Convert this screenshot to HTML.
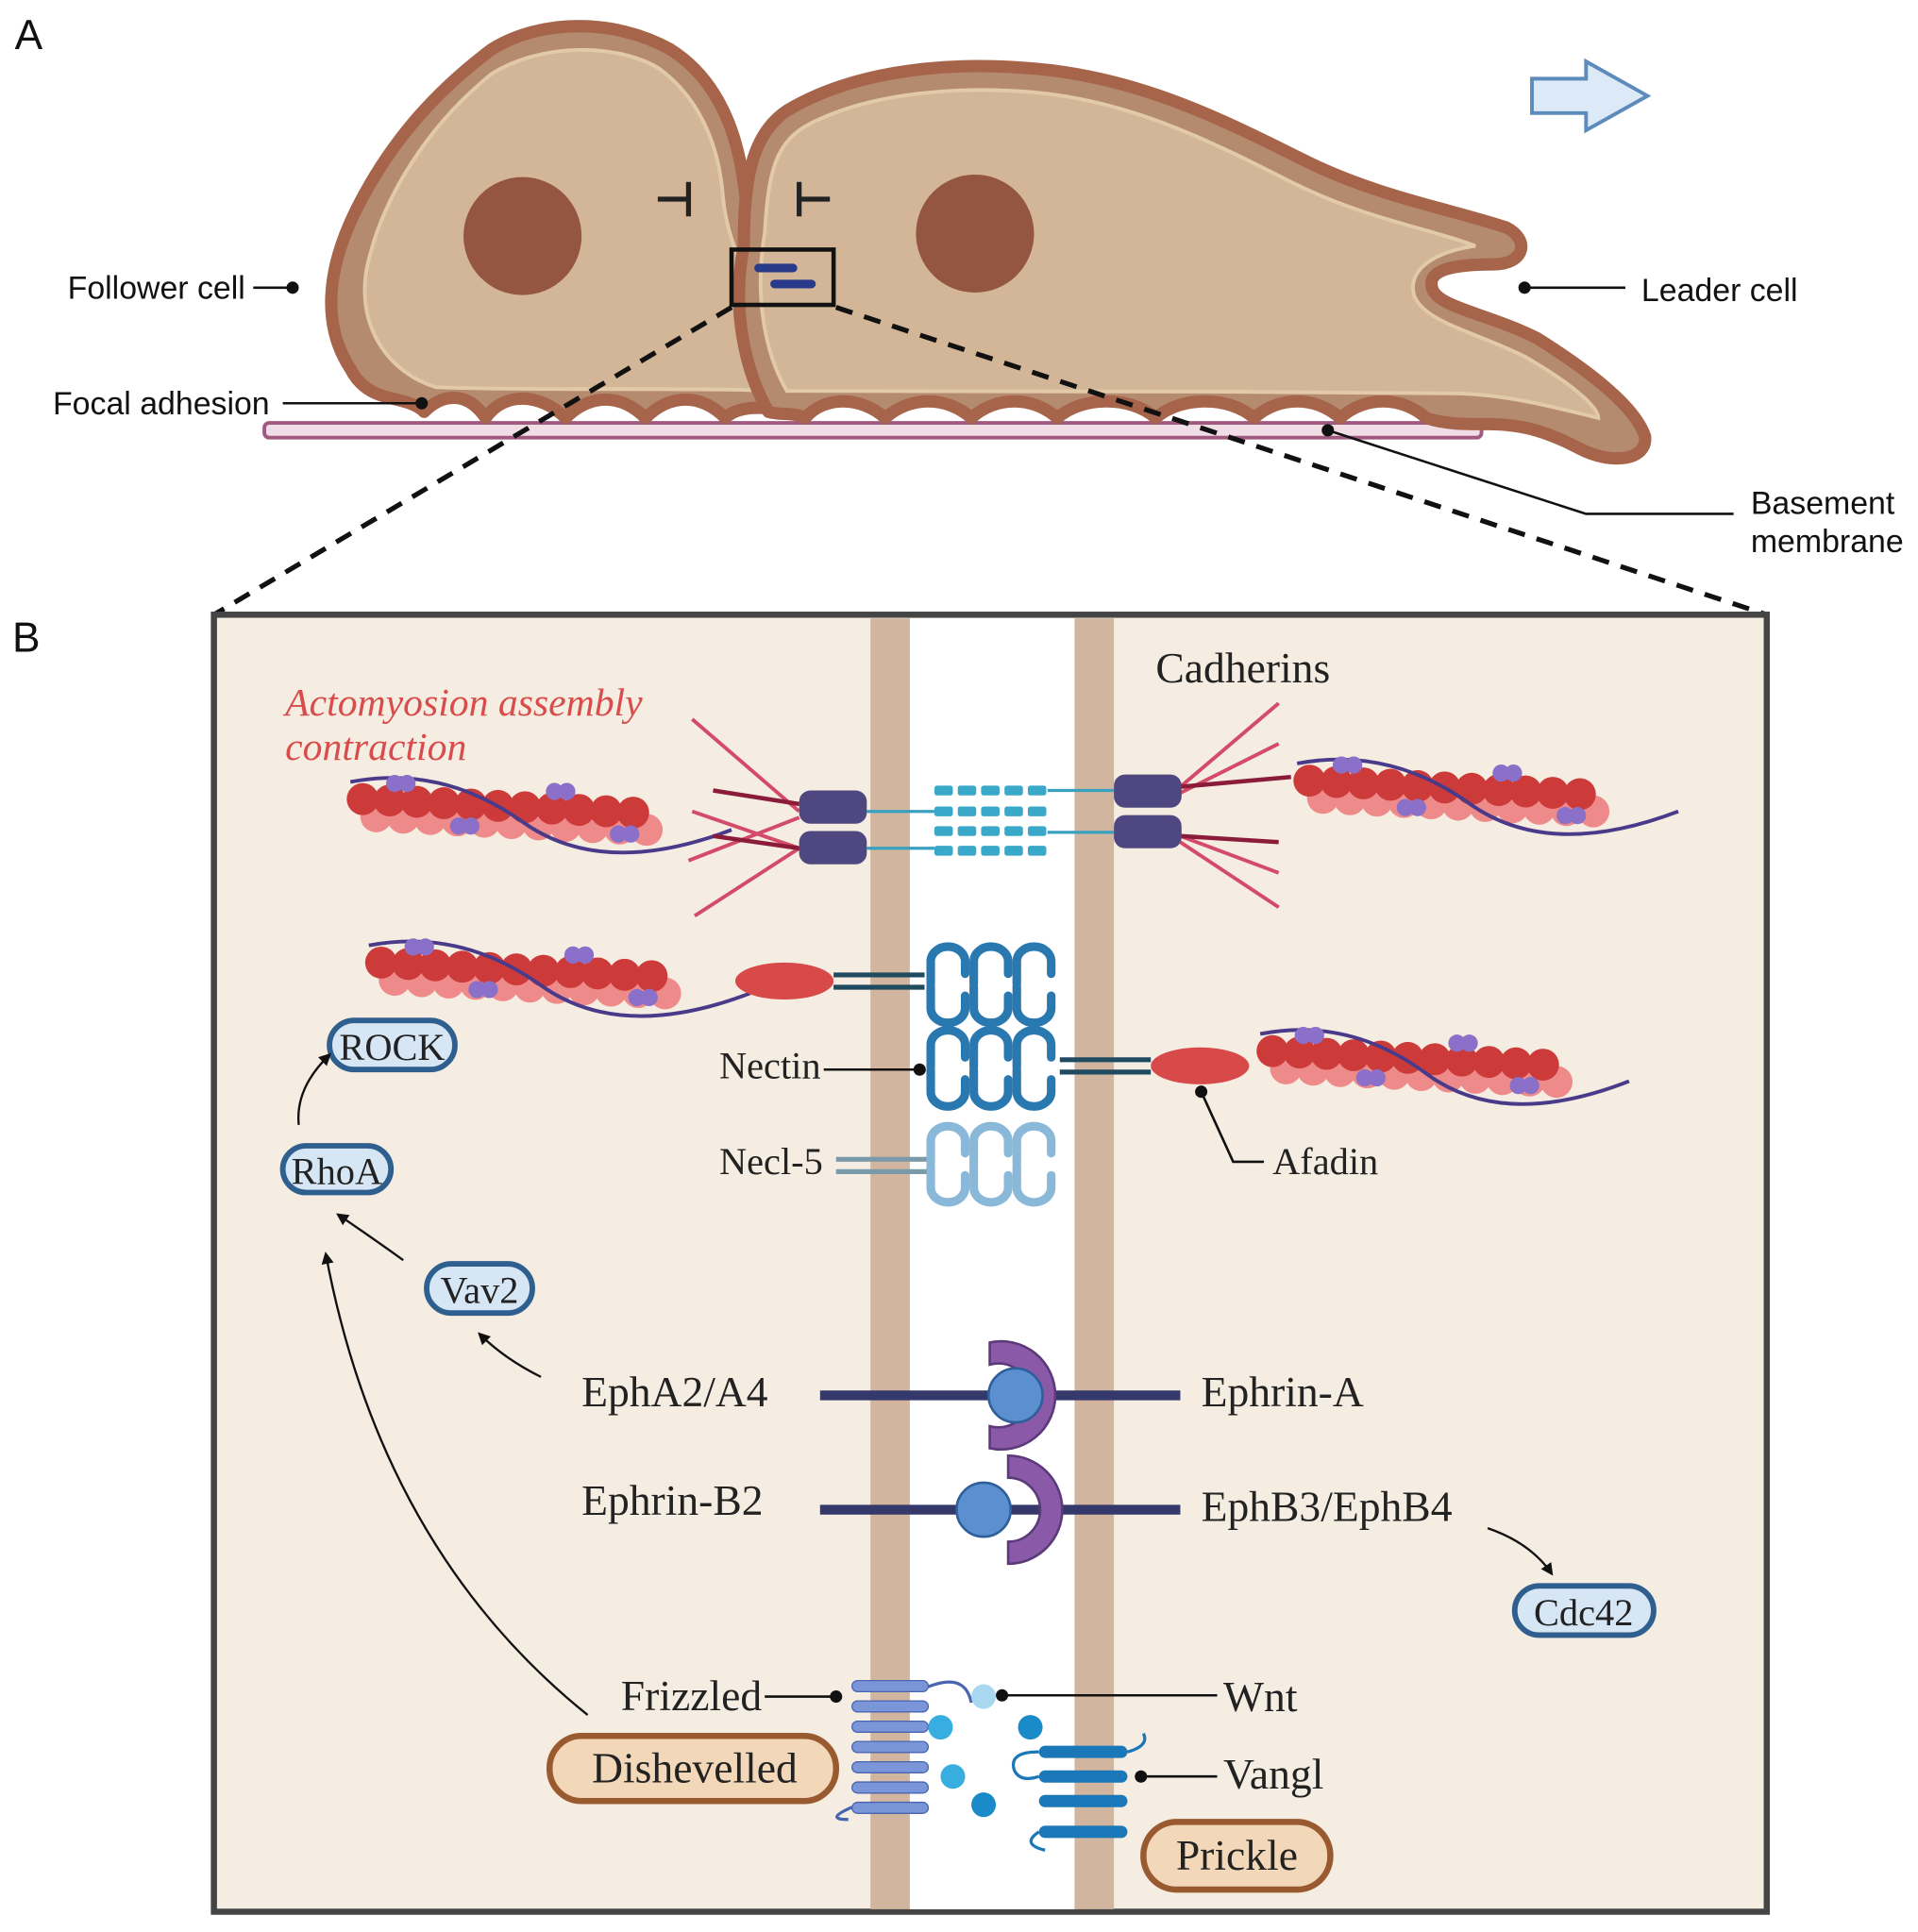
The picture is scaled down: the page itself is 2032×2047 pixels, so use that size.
<!DOCTYPE html>
<html><head><meta charset="utf-8"><style>
html,body{margin:0;padding:0;background:#fff}
svg{display:block}
.s{font-family:"Liberation Sans",sans-serif;font-size:26px;fill:#111}
.r{font-family:"Liberation Serif",serif;font-size:35px;fill:#222}
.m{font-size:31px}
</style></head><body>
<svg id="sv" width="2032" height="2047" viewBox="0 0 1560 1571.5" preserveAspectRatio="none" xmlns="http://www.w3.org/2000/svg">
<defs>
<marker id="ah" markerWidth="10" markerHeight="10" refX="8" refY="5" orient="auto" markerUnits="userSpaceOnUse"><path d="M0,0 L10,5 L0,10 Z" fill="#111"/></marker>
</defs>
<rect width="1560" height="1572" fill="#fff"/>
<text x="12" y="40" class="s" style="font-size:34px">A</text>
<text x="10" y="530" class="s" style="font-size:34px">B</text>

<rect x="215" y="344" width="990" height="12" rx="4" fill="#f0dde6" stroke="#a05a80" stroke-width="3"/>

<path d="M345,335 C330,320 300,330 285,300 C262,265 265,220 290,170 C320,110 360,70 400,40 C440,15 500,15 545,40 C585,65 600,110 605,150 C610,195 630,230 655,265 C675,300 670,335 645,335 C620,330 600,330 590,340 C570,320 545,320 525,340 C505,320 480,320 460,340 C440,320 410,318 395,340 C380,318 360,320 345,335 Z" fill="#b58b70" stroke="#a6644a" stroke-width="10" stroke-linejoin="round"/>
<path d="M355,315 C320,305 290,270 298,220 C310,160 350,100 400,60 C440,35 500,35 535,55 C570,80 585,120 588,160 C592,205 615,240 640,275 C655,300 650,318 630,318 C560,315 440,318 355,315 Z" fill="#d3b698" stroke="#e2caa9" stroke-width="3"/>
<circle cx="425" cy="192" r="48" fill="#945640"/>

<path d="M625,335 C605,300 595,250 605,200 C605,150 610,110 640,90 C690,60 760,50 830,55 C920,60 990,95 1060,130 C1120,160 1180,170 1225,185 C1245,195 1240,215 1215,215 C1180,215 1160,220 1165,235 C1170,250 1210,255 1250,275 C1290,300 1330,330 1338,355 C1340,375 1310,378 1285,365 C1260,352 1240,345 1210,345 C1190,345 1175,345 1160,340 C1140,322 1110,322 1090,340 C1070,322 1040,322 1020,340 C1000,322 960,322 940,340 C920,322 880,322 860,340 C840,322 810,322 790,340 C770,322 740,322 720,340 C700,322 670,322 655,340 C645,335 635,338 625,335 Z" fill="#b58b70" stroke="#a6644a" stroke-width="10" stroke-linejoin="round"/>
<path d="M640,318 C618,280 615,230 622,190 C625,140 630,115 660,100 C710,75 780,70 840,75 C920,82 985,115 1050,148 C1110,178 1160,185 1200,200 C1165,205 1145,220 1150,240 C1158,262 1200,270 1240,290 C1275,310 1300,330 1300,340 C1260,330 1220,320 1180,320 C1000,318 800,318 640,318 Z" fill="#d3b698" stroke="#e2caa9" stroke-width="3"/>
<circle cx="793" cy="190" r="48" fill="#945640"/>

<path d="M535,162 H560 M560,148 V176 M650,148 V176 M650,162 H675" stroke="#222" stroke-width="4" fill="none"/>
<rect x="595" y="203" width="83" height="45" fill="none" stroke="#111" stroke-width="3.5"/>
<path d="M617,218 H645 M630,231 H660" stroke="#2a3a8a" stroke-width="7" stroke-linecap="round"/>

<path d="M1246,64 H1290 V50 L1340,78 L1290,106 V92 H1246 Z" fill="#dce9f6" stroke="#5d8bbb" stroke-width="3"/>

<text x="55" y="243" class="s">Follower cell</text>
<path d="M206,234 H238" stroke="#111" stroke-width="2"/><circle cx="238" cy="234" r="5" fill="#111"/>
<text x="43" y="337" class="s">Focal adhesion</text>
<path d="M230,328 H343" stroke="#111" stroke-width="2"/><circle cx="343" cy="328" r="5" fill="#111"/>
<text x="1335" y="245" class="s">Leader cell</text>
<path d="M1240,234 H1322" stroke="#111" stroke-width="2"/><circle cx="1240" cy="234" r="5" fill="#111"/>
<text x="1424" y="418" class="s">Basement</text>
<text x="1424" y="449" class="s">membrane</text>
<path d="M1080,350 L1290,418 H1410" stroke="#111" stroke-width="2" fill="none"/><circle cx="1080" cy="350" r="5" fill="#111"/>

<path d="M595,250 L174,500 M680,250 L1437,500" stroke="#111" stroke-width="4" stroke-dasharray="14,10"/>

<rect x="174" y="500" width="1263" height="1055" fill="#f5ede1" stroke="#454545" stroke-width="5"/>
<rect x="740" y="503" width="134" height="1050" fill="#fff"/>
<rect x="708" y="503" width="32" height="1050" fill="#d1b59e"/>
<rect x="874" y="503" width="32" height="1050" fill="#d1b59e"/>

<text x="232" y="582" class="r" style="fill:#d94c4c;font-style:italic;font-size:32px">Actomyosion assembly</text>
<text x="232" y="618" class="r" style="fill:#d94c4c;font-style:italic;font-size:32px">contraction</text>
<text x="940" y="555" class="r">Cadherins</text>

<g id="actin"></g>

<g stroke="#d44a6a" stroke-width="3">
<path d="M650,660 L563,585 M650,690 L563,660 M650,665 L560,700 M650,690 L565,745"/>
<path d="M960,640 L1040,572 M960,645 L1040,605 M960,680 L1040,710 M960,685 L1040,738"/>
</g>
<g stroke="#8a1c3a" stroke-width="3.5">
<path d="M650,654 L580,643 M650,690 L580,680 M960,640 L1050,632 M960,680 L1040,685"/>
</g>
<rect x="650" y="643" width="55" height="27" rx="9" fill="#4f4880"/>
<rect x="650" y="676" width="55" height="27" rx="9" fill="#4f4880"/>
<rect x="906" y="630" width="55" height="27" rx="9" fill="#4f4880"/>
<rect x="906" y="663" width="55" height="27" rx="9" fill="#4f4880"/>
<g stroke="#3aa0c0" stroke-width="2.5"><path d="M705,660 H760 M705,690 H760 M852,643 H906 M852,677 H906"/></g>
<g id="cadh"></g>

<ellipse cx="638" cy="798" rx="40" ry="15" fill="#d84a4a"/>
<ellipse cx="976" cy="867" rx="40" ry="15" fill="#d84a4a"/>
<path d="M678,793 H752 M678,803 H752" stroke="#1f4a60" stroke-width="4"/>
<path d="M862,862 H936 M862,872 H936" stroke="#1f4a60" stroke-width="4"/>
<path d="M680,943 H760 M680,953 H760" stroke="#7a9aaa" stroke-width="4"/>
<g id="nec"></g>

<text x="585" y="877" class="r m">Nectin</text>
<path d="M670,870 H748" stroke="#111" stroke-width="2"/><circle cx="748" cy="870" r="5" fill="#111"/>
<text x="585" y="955" class="r m">Necl-5</text>
<text x="1035" y="955" class="r m">Afadin</text>
<path d="M977,888 L1003,945 H1028" stroke="#111" stroke-width="2" fill="none"/><circle cx="977" cy="888" r="5" fill="#111"/>

<g stroke="#2f5f8f" stroke-width="4.5" fill="#d7e6f5">
<rect x="268" y="830" width="102" height="40" rx="20"/>
<rect x="230" y="932" width="88" height="38" rx="19"/>
<rect x="347" y="1028" width="86" height="40" rx="20"/>
<rect x="1232" y="1290" width="113" height="40" rx="20"/>
</g>
<text x="319" y="862" class="r m" text-anchor="middle">ROCK</text>
<text x="274" y="963" class="r m" text-anchor="middle">RhoA</text>
<text x="390" y="1060" class="r m" text-anchor="middle">Vav2</text>
<text x="1288" y="1322" class="r m" text-anchor="middle">Cdc42</text>

<g stroke="#111" stroke-width="1.8" fill="none" marker-end="url(#ah)">
<path d="M440,1120 Q410,1105 390,1085"/>
<path d="M328,1025 Q300,1005 275,988"/>
<path d="M243,915 Q240,885 268,858"/>
<path d="M478,1395 Q310,1260 265,1020"/>
<path d="M1210,1243 Q1245,1255 1262,1280"/>
</g>

<path d="M667,1135 H960 M667,1228 H960" stroke="#35386a" stroke-width="8"/>
<path d="M805,1092 A44,44 0 1,1 805,1178 L805,1160 A26,26 0 1,0 805,1110 Z" fill="#8a5aa8" stroke="#5c3a7a" stroke-width="2"/>
<circle cx="826" cy="1135" r="22" fill="#5b8fd0" stroke="#2f5f9a" stroke-width="2"/>
<path d="M820,1184 A44,44 0 1,1 820,1272 L820,1254 A26,26 0 1,0 820,1202 Z" fill="#8a5aa8" stroke="#5c3a7a" stroke-width="2"/>
<circle cx="800" cy="1228" r="22" fill="#5b8fd0" stroke="#2f5f9a" stroke-width="2"/>
<text x="473" y="1144" class="r">EphA2/A4</text>
<text x="977" y="1144" class="r">Ephrin-A</text>
<text x="473" y="1232" class="r">Ephrin-B2</text>
<text x="977" y="1237" class="r">EphB3/EphB4</text>

<g id="fz"></g>
<circle cx="800" cy="1380" r="10" fill="#a8d8f0"/>
<circle cx="765" cy="1405" r="10" fill="#38aee0"/>
<circle cx="775" cy="1445" r="10" fill="#38aee0"/>
<circle cx="800" cy="1468" r="10" fill="#1a8ac8"/>
<circle cx="838" cy="1405" r="10" fill="#1a8ac8"/>
<rect x="447" y="1412" width="233" height="53" rx="26" fill="#f2d7b8" stroke="#9a5a30" stroke-width="5"/>
<text x="565" y="1450" class="r" text-anchor="middle">Dishevelled</text>
<rect x="930" y="1482" width="152" height="55" rx="27" fill="#f2d7b8" stroke="#9a5a30" stroke-width="5"/>
<text x="1006" y="1521" class="r" text-anchor="middle">Prickle</text>
<text x="505" y="1391" class="r">Frizzled</text>
<path d="M622,1380 H680" stroke="#111" stroke-width="2"/><circle cx="680" cy="1380" r="5" fill="#111"/>
<text x="995" y="1392" class="r">Wnt</text>
<path d="M815,1379 H990" stroke="#111" stroke-width="2"/><circle cx="815" cy="1379" r="5" fill="#111"/>
<text x="995" y="1455" class="r">Vangl</text>
<path d="M928,1445 H990" stroke="#111" stroke-width="2"/><circle cx="928" cy="1445" r="5" fill="#111"/>
</svg>
<script>
var NS="http://www.w3.org/2000/svg";
function el(p,t,a){var e=document.createElementNS(NS,t);for(var k in a)e.setAttribute(k,a[k]);p.appendChild(e);return e;}
var A=document.getElementById("actin");
function fil(x0,y0,len,slope){
 var n=Math.floor(len/22);
 for(var i=0;i<n;i++){var x=x0+i*22,y=y0+i*22*slope;
  el(A,"circle",{cx:x+11,cy:y+14,r:13,fill:"#ef8a8a"});}
 for(var i=0;i<n;i++){var x=x0+i*22,y=y0+i*22*slope;
  el(A,"circle",{cx:x,cy:y,r:13,fill:"#cc3a3a"});}
 var ys=y0+len*slope;
 el(A,"path",{d:"M"+(x0-10)+","+(y0-14)+" Q"+(x0+len*0.25)+","+(y0-28)+" "+(x0+len*0.5)+","+(y0+(len*0.5)*slope+12)+" T"+(x0+len+40)+","+(ys+12),stroke:"#4a3a8a","stroke-width":3,fill:"none"});
 [[0.1,-14],[0.6,-14],[0.3,18],[0.8,18]].forEach(function(q){el(A,"circle",{cx:x0+len*q[0],cy:y0+len*q[0]*slope+q[1],r:7,fill:"#8a70c8"});el(A,"circle",{cx:x0+len*q[0]+10,cy:y0+len*q[0]*slope+q[1],r:7,fill:"#8a70c8"});});
}
fil(295,650,260,0.05);fil(1065,635,260,0.05);fil(310,783,260,0.05);fil(1035,855,250,0.05);
var C=document.getElementById("cadh");
[643,660,676,692].forEach(function(y){for(var i=0;i<5;i++)el(C,"rect",{x:760+i*19,y:y-4,width:15,height:8,rx:2,fill:"#3aa8c8"});});
var N=document.getElementById("nec");
function loops(y,col){for(var i=0;i<3;i++){var x=757+i*35;
 el(N,"path",{d:"M"+x+","+(y+28)+" V"+(y+10)+" A14,12 0 0,1 "+(x+28)+","+(y+10)+" V"+(y+20)+" M"+x+","+(y+30)+" V"+(y+48)+" A14,12 0 0,0 "+(x+28)+","+(y+48)+" V"+(y+38),stroke:col,"stroke-width":7,fill:"none","stroke-linecap":"round"});}}
loops(772,"#2a78b0");loops(840,"#2a78b0");loops(918,"#8ab8d8");
var F=document.getElementById("fz");
for(var i=0;i<7;i++)el(F,"rect",{x:693,y:1367+i*16.5,width:62,height:9,rx:4.5,fill:"#7a95d8",stroke:"#4a65b0","stroke-width":1});
el(F,"path",{d:"M755,1372 Q785,1360 790,1385 M693,1470 Q670,1480 690,1480",stroke:"#4a65b0","stroke-width":2.5,fill:"none"});
[1425,1445,1465,1490].forEach(function(y){el(F,"rect",{x:845,y:y-5,width:72,height:10,rx:5,fill:"#1a78b8"});});
el(F,"path",{d:"M845,1425 Q820,1425 825,1440 Q830,1450 845,1445 M917,1425 Q935,1420 930,1410 M845,1490 Q830,1500 850,1505",stroke:"#1a78b8","stroke-width":2.5,fill:"none"});
</script>
</body></html>
